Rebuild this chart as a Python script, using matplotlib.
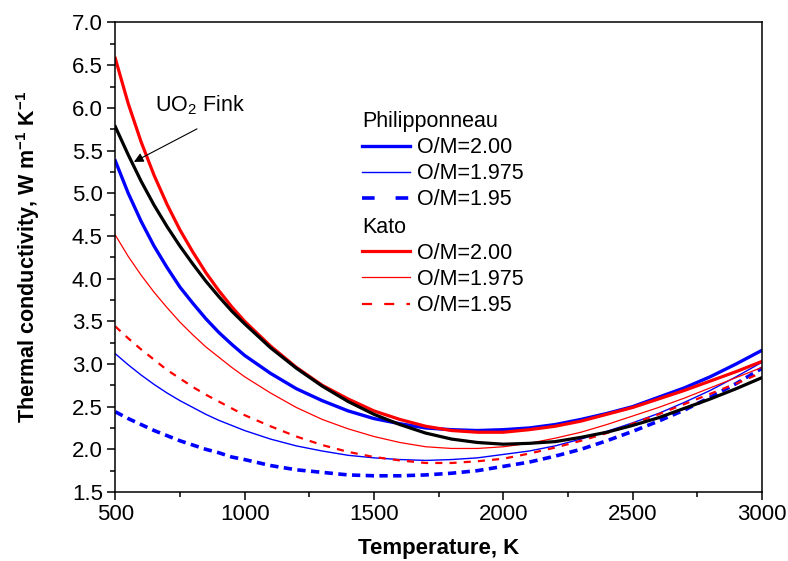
import matplotlib
matplotlib.use("Agg")
import matplotlib.pyplot as plt
from matplotlib.lines import Line2D
from matplotlib.ticker import MultipleLocator, FormatStrFormatter

plt.rcParams['font.family'] = ['Liberation Sans', 'DejaVu Sans']
plt.rcParams['mathtext.fontset'] = 'custom'
plt.rcParams['mathtext.rm'] = 'Liberation Sans'
plt.rcParams['mathtext.it'] = 'Liberation Sans'
plt.rcParams['mathtext.bf'] = 'Liberation Sans:bold'

# Temperature grid (K)
temperature = [500, 550, 600, 650, 700, 750, 800, 850, 900, 950, 1000, 1100, 1200, 1300,
               1400, 1500, 1600, 1700, 1800, 1900, 2000, 2100, 2200, 2300, 2400, 2500,
               2600, 2700, 2800, 2900, 3000]

# Thermal conductivity (W m-1 K-1)
fink_uo2 = [5.78, 5.45, 5.14, 4.86, 4.61, 4.38, 4.17, 3.97, 3.79, 3.62, 3.47, 3.19, 2.95,
            2.74, 2.56, 2.41, 2.29, 2.19, 2.12, 2.08, 2.06, 2.07, 2.09, 2.14, 2.20, 2.28,
            2.37, 2.48, 2.59, 2.71, 2.84]

phil_200 = [5.38, 5.00, 4.67, 4.38, 4.13, 3.90, 3.71, 3.53, 3.37, 3.23, 3.10, 2.89, 2.71,
            2.57, 2.45, 2.36, 2.30, 2.25, 2.23, 2.22, 2.23, 2.25, 2.29, 2.35, 2.42, 2.50,
            2.61, 2.72, 2.85, 3.00, 3.16]
phil_1975 = [3.12, 2.99, 2.87, 2.76, 2.66, 2.57, 2.49, 2.41, 2.34, 2.28, 2.22, 2.12, 2.04,
             1.98, 1.93, 1.90, 1.88, 1.87, 1.88, 1.90, 1.94, 1.98, 2.04, 2.12, 2.21, 2.31,
             2.42, 2.55, 2.69, 2.85, 3.02]
phil_195 = [2.44, 2.36, 2.29, 2.22, 2.16, 2.10, 2.05, 2.00, 1.96, 1.91, 1.88, 1.81, 1.76,
            1.73, 1.70, 1.69, 1.69, 1.70, 1.72, 1.75, 1.80, 1.85, 1.92, 2.00, 2.10, 2.21,
            2.33, 2.46, 2.61, 2.77, 2.95]

kato_200 = [6.58, 6.05, 5.60, 5.21, 4.87, 4.57, 4.31, 4.07, 3.86, 3.67, 3.50, 3.21, 2.96,
            2.75, 2.59, 2.45, 2.35, 2.27, 2.22, 2.20, 2.20, 2.23, 2.27, 2.33, 2.41, 2.49,
            2.59, 2.69, 2.80, 2.91, 3.03]
kato_1975 = [4.51, 4.26, 4.04, 3.84, 3.66, 3.49, 3.34, 3.20, 3.08, 2.96, 2.85, 2.66, 2.49,
             2.35, 2.24, 2.15, 2.08, 2.03, 2.01, 2.01, 2.03, 2.07, 2.13, 2.20, 2.29, 2.39,
             2.49, 2.60, 2.72, 2.84, 2.96]
kato_195 = [3.44, 3.30, 3.17, 3.05, 2.93, 2.83, 2.73, 2.64, 2.56, 2.48, 2.40, 2.27, 2.15,
            2.05, 1.97, 1.91, 1.87, 1.84, 1.84, 1.86, 1.89, 1.95, 2.02, 2.10, 2.19, 2.30,
            2.41, 2.53, 2.65, 2.77, 2.90]

om_labels = ['O/M=2.00', 'O/M=1.975', 'O/M=1.95']

BLUE = '#0000ff'
RED = '#ff0000'

fig = plt.figure(figsize=(7.88, 5.61), dpi=100)
ax = fig.add_axes([0.1463, 0.1230, 0.8207, 0.8369])

ax.plot(temperature, phil_200, color=BLUE, lw=2.4)
ax.plot(temperature, phil_1975, color=BLUE, lw=1.0)
ax.plot(temperature, phil_195, color=BLUE, lw=2.6, dashes=(2.3, 1.5))
ax.plot(temperature, kato_200, color=RED, lw=2.3)
ax.plot(temperature, kato_1975, color=RED, lw=0.9)
ax.plot(temperature, kato_195, color=RED, lw=1.6, dashes=(3.2, 3.2))
ax.plot(temperature, fink_uo2, color='black', lw=2.3)

ax.set_xlim(500, 3000)
ax.set_ylim(1.5, 7.0)
ax.xaxis.set_major_locator(MultipleLocator(500))
ax.xaxis.set_minor_locator(MultipleLocator(250))
ax.yaxis.set_major_locator(MultipleLocator(0.5))
ax.yaxis.set_minor_locator(MultipleLocator(0.25))
ax.yaxis.set_major_formatter(FormatStrFormatter('%.1f'))

for sp in ax.spines.values():
    sp.set_linewidth(1.1)
ax.tick_params(which='both', direction='out', top=False, right=False, width=1.1)
ax.tick_params(which='major', length=6, labelsize=16, pad=3)
ax.tick_params(which='minor', length=3.5)

ax.set_xlabel('Temperature, K', fontsize=16, fontweight='bold')
ax.set_ylabel(r'Thermal conductivity, W m$^{\mathbf{-1}}$ K$^{\mathbf{-1}}$',
              fontsize=15.5, fontweight='bold')
ax.xaxis.set_label_coords(0.5, -0.097)
ax.yaxis.set_label_coords(-0.113, 0.5)

# Fink UO2 annotation
ax.annotate('', xy=(572, 5.367), xytext=(816, 5.754),
            arrowprops=dict(arrowstyle='-|>', color='black', lw=0.8,
                            mutation_scale=14, shrinkA=0, shrinkB=0))
ax.text(653, 5.956, 'UO$_2$ Fink', fontsize=15.5, ha='left', va='baseline')

# Two grouped legends
phil_handles = [Line2D([], [], color=BLUE, lw=2.4),
                Line2D([], [], color=BLUE, lw=1.0),
                Line2D([], [], color=BLUE, lw=2.6, dashes=(3.5, 5.8))]
kato_handles = [Line2D([], [], color=RED, lw=2.3),
                Line2D([], [], color=RED, lw=0.9),
                Line2D([], [], color=RED, lw=1.6, dashes=(4.5, 5.5))]

common = dict(loc='upper left', frameon=False, fontsize=15.5, title_fontsize=15.5,
              alignment='left', borderpad=0, borderaxespad=0, handlelength=2.23,
              handletextpad=0.33, labelspacing=0.24)
leg1 = ax.legend(phil_handles, om_labels, title='Philipponneau',
                 bbox_to_anchor=(0.3815, 0.8115), **common)
ax.add_artist(leg1)
leg2 = ax.legend(kato_handles, om_labels, title='Kato',
                 bbox_to_anchor=(0.3815, 0.5866), **common)

fig.savefig('out.png', dpi=100)
